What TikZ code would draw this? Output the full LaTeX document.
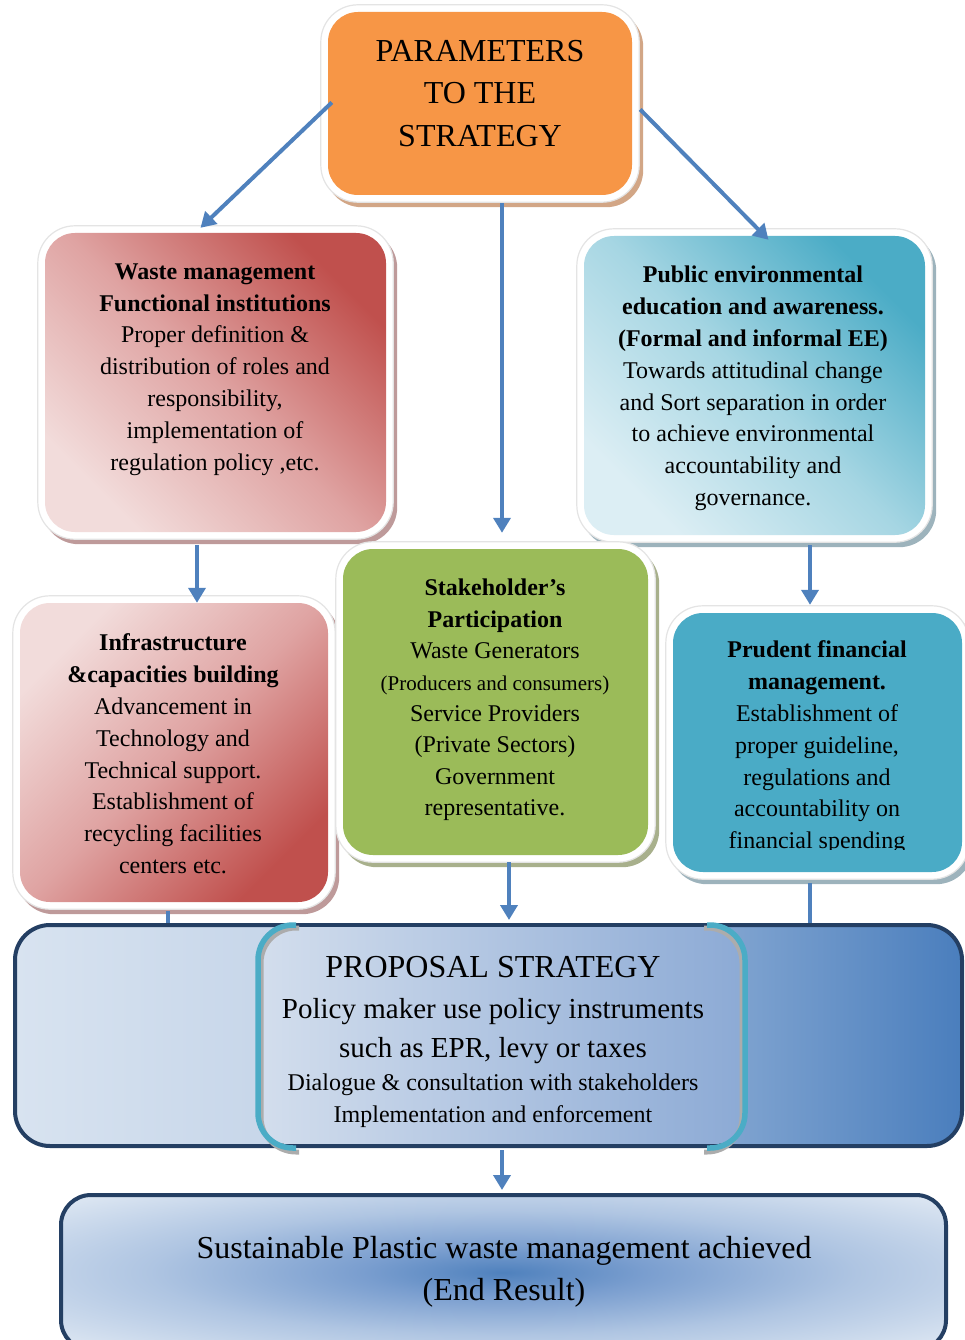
\documentclass[tikz,border=0pt]{standalone}
\usepackage{fontspec}
\setmainfont{Liberation Serif}
\usetikzlibrary{arrows.meta,backgrounds}
\definecolor{orangeF}{HTML}{F79646}
\definecolor{arrowblue}{HTML}{4F81BD}
\definecolor{redD}{HTML}{C0504D}
\definecolor{redM}{HTML}{DFA3A2}
\definecolor{redL}{HTML}{F2DCDB}
\definecolor{tealD}{HTML}{4BACC6}
\definecolor{tealM}{HTML}{A6D6E3}
\definecolor{tealL}{HTML}{DCEEF4}
\definecolor{greenF}{HTML}{9BBB59}
\definecolor{pruF}{HTML}{4AABC6}
\definecolor{navy}{HTML}{243F63}
\definecolor{rimgray}{HTML}{E4E4E4}
\definecolor{shOrange}{HTML}{D2A686}
\definecolor{shRed}{HTML}{BE9A9A}
\definecolor{shBlue}{HTML}{9DB3BC}
\definecolor{shGreen}{HTML}{A8B08C}
\definecolor{propL}{HTML}{D8E3F0}
\definecolor{propM}{HTML}{B8CBE4}
\definecolor{propR}{HTML}{4A7EBD}
\definecolor{innL}{HTML}{D3DEED}
\definecolor{innR}{HTML}{8CAAD5}
\definecolor{glowA}{HTML}{4F81BD}
\definecolor{glowB}{HTML}{7A9ECF}
\definecolor{glowC}{HTML}{AFC5E2}
\definecolor{glowD}{HTML}{DCE6F2}
\pgfdeclareradialshading{endglow}{\pgfpoint{0bp}{0bp}}{color(0bp)=(glowA); color(8bp)=(glowB); color(20bp)=(glowC); color(34bp)=(glowD); color(50bp)=(glowD)}
\newcommand\myrim[2]{%
  \fill[#2, rounded corners=37pt] ([shift={(-3,-2)}]#1.north west) rectangle ([shift={(11,12)}]#1.south east);
  \filldraw[fill=white, draw=rimgray, line width=1.2pt, rounded corners=37pt] ([shift={(-7,-7)}]#1.north west) rectangle ([shift={(7,7)}]#1.south east);
}
\tikzset{
  boxbase/.style={rectangle, rounded corners=30pt, inner sep=0pt, draw=none},
  body/.style={align=flush center, inner sep=0pt, font=\fontsize{24}{31.8}\selectfont},
  arr/.style={draw=arrowblue, line width=4pt, -{Triangle[length=15pt,width=17pt]}},
  conn/.style={draw=arrowblue, line width=4pt},
  bracket/.style={draw=tealD, line width=5.5pt, rounded corners=35pt},
  bracketsh/.style={draw=gray!65, line width=5pt, rounded corners=35pt},
}
\begin{document}
\begin{tikzpicture}[x=1pt,y=-1pt]
\path[use as bounding box, clip] (0,0) rectangle (965,1340);

% ---------- boxes
\node[boxbase, minimum width=304pt, minimum height=183pt, fill=orangeF] (top) at (480,103.5) {};
\node[boxbase, minimum width=341pt, minimum height=299pt, top color=redD, bottom color=redL, middle color=redM, shading angle=-45] (wm) at (215.5,382.5) {};
\node[boxbase, minimum width=341pt, minimum height=299pt, top color=tealD, bottom color=tealL, middle color=tealM, shading angle=-45] (pub) at (754.5,385.5) {};
\node[boxbase, minimum width=308pt, minimum height=299pt, top color=redL, bottom color=redD, middle color=redM, shading angle=45] (inf) at (174,752.5) {};
\node[boxbase, minimum width=305pt, minimum height=306pt, fill=greenF] (sp) at (495.5,702) {};
\node[boxbase, minimum width=289pt, minimum height=259pt, fill=pruF] (pru) at (817.5,742.5) {};

\begin{scope}[on background layer]
  \myrim{top}{shOrange}
  \myrim{wm}{shRed}
  \myrim{pub}{shBlue}
  \myrim{inf}{shRed}
  \myrim{sp}{shGreen}
  \myrim{pru}{shBlue}
\end{scope}

% ---------- texts
\node[align=center, inner sep=0pt, font=\fontsize{32}{42.5}\selectfont] (topt) at (480,93.5) {PARAMETERS\\TO THE\\STRATEGY};
\node[body, text width=330pt] (wmt) at (215,369.5) {\textbf{Waste management}\\\textbf{Functional institutions}\\Proper definition \&\\distribution of roles and\\responsibility,\\implementation of\\regulation policy ,etc.};
\node[body, text width=330pt] (pubt) at (753,388.5) {\textbf{Public environmental}\\\textbf{education and awareness.}\\\textbf{(Formal and informal EE)}\\Towards attitudinal change\\and Sort separation in order\\to achieve environmental\\accountability and\\governance.};
\node[body, text width=300pt] (inft) at (173,754) {\textbf{Infrastructure}\\\textbf{\&capacities building}\\Advancement in\\Technology and\\Technical support.\\Establishment of\\recycling facilities\\centers etc.};
\node[body, text width=300pt, font=\fontsize{24}{31.4}\selectfont] (spt) at (495,700) {\textbf{Stakeholder’s}\\\textbf{Participation}\\Waste Generators\\{\fontsize{21}{31.4}\selectfont(Producers and consumers)}\\Service Providers\\(Private Sectors)\\Government\\representative.};
\begin{scope}
  \clip (673,613) rectangle (962,849);
  \node[body, text width=280pt] (prut) at (817,747.5) {\textbf{Prudent financial}\\\textbf{management.}\\Establishment of\\proper guideline,\\regulations and\\accountability on\\financial spending};
\end{scope}

% ---------- proposal strategy
\node[boxbase, rounded corners=35pt, minimum width=947pt, minimum height=221pt, draw=navy, line width=4pt, left color=propL, right color=propR, middle color=propM] (prop) at (488.5,1035.5) {};
\fill[left color=innL, right color=innR, rounded corners=30pt] (258,927) rectangle (745,1144);
\draw[navy, line width=4pt] (250,925) -- (750,925) (250,1146) -- (750,1146);
\draw[bracketsh] (299,928) -- (261,928) -- (261,1152) -- (299,1152);
\draw[bracketsh] (704,928) -- (742,928) -- (742,1152) -- (704,1152);
\draw[bracket] (296,925) -- (258,925) -- (258,1148) -- (296,1148);
\draw[bracket] (707,925) -- (745,925) -- (745,1148) -- (707,1148);
\node[align=flush center, inner sep=0pt, text width=470pt, anchor=north, font=\fontsize{24}{32}\selectfont] (propt) at (493,956)
  {{\fontsize{32}{32}\selectfont PROPOSAL STRATEGY}\\[9pt]{\fontsize{29}{32}\selectfont Policy maker use policy instruments}\\[7pt]{\fontsize{29}{32}\selectfont such as EPR, levy or taxes}\\[1.5pt]Dialogue \& consultation with stakeholders\\Implementation and enforcement};

% ---------- end result
\node[boxbase, rounded corners=30pt, minimum width=885pt, minimum height=155pt, draw=navy, line width=4pt, shading=endglow] (end) at (503.5,1272.5) {};
\node[align=center, inner sep=0pt, font=\fontsize{32}{42}\selectfont] (endt) at (504,1272) {Sustainable Plastic waste management achieved\\(End Result)};

% ---------- connectors
\draw[arr] ([shift={(4,-1)}]top.west) -- ([shift={(-15,-5)}]wm.north);
\draw[arr] ([shift={(8,6)}]top.east) -- ([shift={(14,4)}]pub.north);
\draw[arr] ([shift={(22,8)}]top.south) -- ([shift={(6.5,-16)}]sp.north);
\draw[arr] ([shift={(-18.5,13)}]wm.south) -- ([shift={(23,0)}]inf.north);
\draw[arr] ([shift={(55.5,10)}]pub.south) -- ([shift={(-7.5,-8)}]pru.north);
\draw[arr] ([shift={(13.5,7)}]sp.south) -- ([shift={(20.5,-3)}]prop.north);
\draw[conn] ([shift={(-6,9)}]inf.south) -- ([shift={(-320.5,0)}]prop.north);
\draw[conn] ([shift={(-7.5,11)}]pru.south) -- ([shift={(321.5,0)}]prop.north);
\draw[arr] ([shift={(13.5,2)}]prop.south) -- ([shift={(-1.5,-3)}]end.north);
\end{tikzpicture}
\end{document}
